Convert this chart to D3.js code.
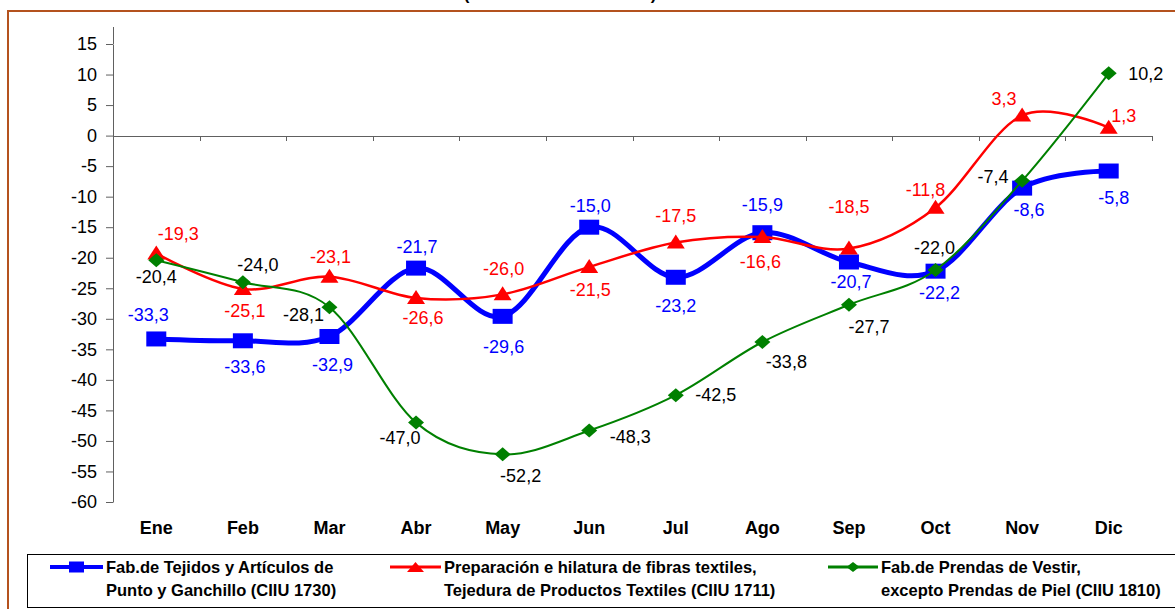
<!doctype html>
<html>
<head>
<meta charset="utf-8">
<script src="https://d3js.org/d3.v7.min.js"></script>
<style>
body {margin: 0; background: white;}
svg {font-family: "Liberation Sans", Arial, sans-serif;}
</style>
</head>
<body>
<svg width="1175" height="609" class="chart"></svg>

<script>
// data
var months = ["Ene","Feb","Mar","Abr","May","Jun","Jul","Ago","Sep","Oct","Nov","Dic"];
var tejidos = [-33.3,-33.6,-32.9,-21.7,-29.6,-15.0,-23.2,-15.9,-20.7,-22.2,-8.6,-5.8];
var preparacion = [-19.3,-25.1,-23.1,-26.6,-26.0,-21.5,-17.5,-16.6,-18.5,-11.8,3.3,1.3];
var prendas = [-20.4,-24.0,-28.1,-47.0,-52.2,-48.3,-42.5,-33.8,-27.7,-22.0,-7.4,10.2];
var yTicks = [15,10,5,0,-5,-10,-15,-20,-25,-30,-35,-40,-45,-50,-55,-60];

var legendTejidos = ["Fab.de Tejidos y Artículos de", "Punto y Ganchillo (CIIU 1730)"];
var legendPreparacion = ["Preparación e hilatura de fibras textiles,", "Tejedura de Productos Textiles (CIIU 1711)"];
var legendPrendas = ["Fab.de Prendas de Vestir,", "excepto Prendas de Piel (CIIU 1810)"];

// where each value label sits, relative to its marker
var offTejidos = [[-8,-24],[2,26],[3,28],[1,-21],[1,30],[1,-22],[0,28],[0,-28],[2,20],[4,22],[7,22],[5,27]];
var offPreparacion = [[22,-20],[2,22],[1,-20],[7,20],[1,-26],[1,23],[0,-27],[-2,25],[0,-42],[-10,-18],[-18,-17],[15,-12]];
var offPrendas = [[0,17],[15,-17],[-26,8],[-16,15],[18,21],[41,6],[40,0],[24,20],[20,22],[-1,-22],[-29,-4],[37,0]];

var svg = d3.select(".chart");

var x = d3.scaleBand().domain(months).range([113,1152]).paddingInner(0).paddingOuter(0);
var y = d3.scaleLinear().domain([-60,15]).range([502,44]);
var cx = function(i) { return x(months[i]) + x.bandwidth()/2; };

// outer frame
svg.append("rect")
  .attr("x", 8).attr("y", 11)
  .attr("width", 1250).attr("height", 700)
  .style("fill", "none")
  .style("stroke", "#b4521e")
  .style("stroke-width", 2);

// title (only its lower edge shows at the top, as in the original)
svg.append("text")
  .attr("x", 560).attr("y", 0)
  .attr("text-anchor", "middle")
  .style("font-size", "17px")
  .style("font-weight", "bold")
  .text("(Variación % interanual)");

// y axis
var yAxis = svg.append("g")
  .attr("transform", "translate(113,0)")
  .call(d3.axisLeft(y).tickValues(yTicks).tickSize(7).tickSizeOuter(0).tickPadding(9)
        .tickFormat(function(d) { return String(d); }));
yAxis.selectAll("line").style("stroke", "#606060");
yAxis.select(".domain").style("stroke", "#606060");
yAxis.selectAll("text").style("font-size", "18px").style("fill", "black")
  .style("font-family", "'Liberation Sans', Arial, sans-serif");
yAxis.append("line")
  .attr("x1", 0.5).attr("x2", 0.5)
  .attr("y1", y(15)).attr("y2", 27)
  .style("stroke", "#606060");

// x axis line at zero with ticks between months
var x0 = svg.append("g");
x0.append("line")
  .attr("x1", 113).attr("x2", x.range()[1])
  .attr("y1", Math.round(y(0)) + 0.5).attr("y2", Math.round(y(0)) + 0.5)
  .style("stroke", "#606060");
x0.selectAll(".tk")
  .data(months.slice(1).concat(["end"]))
  .enter().append("line")
  .attr("x1", function(d, i) { return Math.round(d == "end" ? x.range()[1] : x(d)) + 0.5; })
  .attr("x2", function(d, i) { return Math.round(d == "end" ? x.range()[1] : x(d)) + 0.5; })
  .attr("y1", Math.round(y(0))).attr("y2", Math.round(y(0)) + 5)
  .style("stroke", "#606060");

// month labels
var xAxis = svg.append("g")
  .attr("transform", "translate(0,517)")
  .call(d3.axisBottom(x).tickSize(0).tickPadding(4));
xAxis.select(".domain").remove();
xAxis.selectAll("text")
  .style("font-size", "18px")
  .style("font-weight", "bold")
  .style("fill", "black")
  .style("font-family", "'Liberation Sans', Arial, sans-serif");

var line = d3.line()
  .x(function(d, i) { return cx(i); })
  .y(function(d) { return y(d); })
  .curve(d3.curveCardinal.tension(0));

function drawSeries(values, color, width, marker) {
  var g = svg.append("g");
  g.append("path")
    .datum(values)
    .attr("d", line)
    .style("fill", "none")
    .style("stroke", color)
    .style("stroke-width", width)
    .style("stroke-linejoin", "round");
  g.selectAll(".m")
    .data(values)
    .enter().append("path")
    .attr("transform", function(d, i) { return "translate(" + cx(i) + "," + y(d) + ")"; })
    .attr("d", marker)
    .style("fill", color);
  return g;
}

function drawLabels(values, offs, labelColor) {
  svg.append("g").selectAll("text")
    .data(values)
    .enter().append("text")
    .attr("x", function(d, i) { return cx(i) + offs[i][0]; })
    .attr("y", function(d, i) { return y(d) + offs[i][1]; })
    .attr("dy", "0.35em")
    .attr("text-anchor", "middle")
    .style("font-size", "18px")
    .style("fill", labelColor)
    .text(function(d) { return d.toFixed(1).replace(".", ","); });
}

var square = "M-10,-7.5H10V7.5H-10Z";
var triangle = "M0,-8L9,6H-9Z";
var diamond = "M0,-7L8,0L0,7L-8,0Z";

drawSeries(tejidos, "#0000ff", 5, square);
drawSeries(preparacion, "#ff0000", 2.5, triangle);
drawSeries(prendas, "#008000", 2, diamond);

drawLabels(tejidos, offTejidos, "#0000ff");
drawLabels(preparacion, offPreparacion, "#ff0000");
drawLabels(prendas, offPrendas, "black");

// legend
svg.append("rect")
  .attr("x", 27.5).attr("y", 554.5)
  .attr("width", 1200).attr("height", 53)
  .style("fill", "white")
  .style("stroke", "black")
  .style("stroke-width", 1);

function legendItem(x1, x2, color, width, marker, lines) {
  var g = svg.append("g");
  g.append("line")
    .attr("x1", x1).attr("x2", x2)
    .attr("y1", 567).attr("y2", 567)
    .style("stroke", color)
    .style("stroke-width", width);
  g.append("path")
    .attr("transform", "translate(" + (x1 + x2)/2 + ",567)")
    .attr("d", marker)
    .style("fill", color);
  g.selectAll("text")
    .data(lines)
    .enter().append("text")
    .attr("x", x2 + 3)
    .attr("y", function(d, i) { return 573 + i*22.5; })
    .style("font-size", "16.5px")
    .style("font-weight", "bold")
    .text(function(d) { return d; });
}

legendItem(50, 103, "#0000ff", 4, "M-7.5,-5.5H7.5V5.5H-7.5Z", legendTejidos);
legendItem(390, 441, "#ff0000", 3, "M0,-5L8.5,5H-8.5Z", legendPreparacion);
legendItem(828, 878, "#008000", 3, "M0,-5L6.5,0L0,5L-6.5,0Z", legendPrendas);
</script>
</body>
</html>
